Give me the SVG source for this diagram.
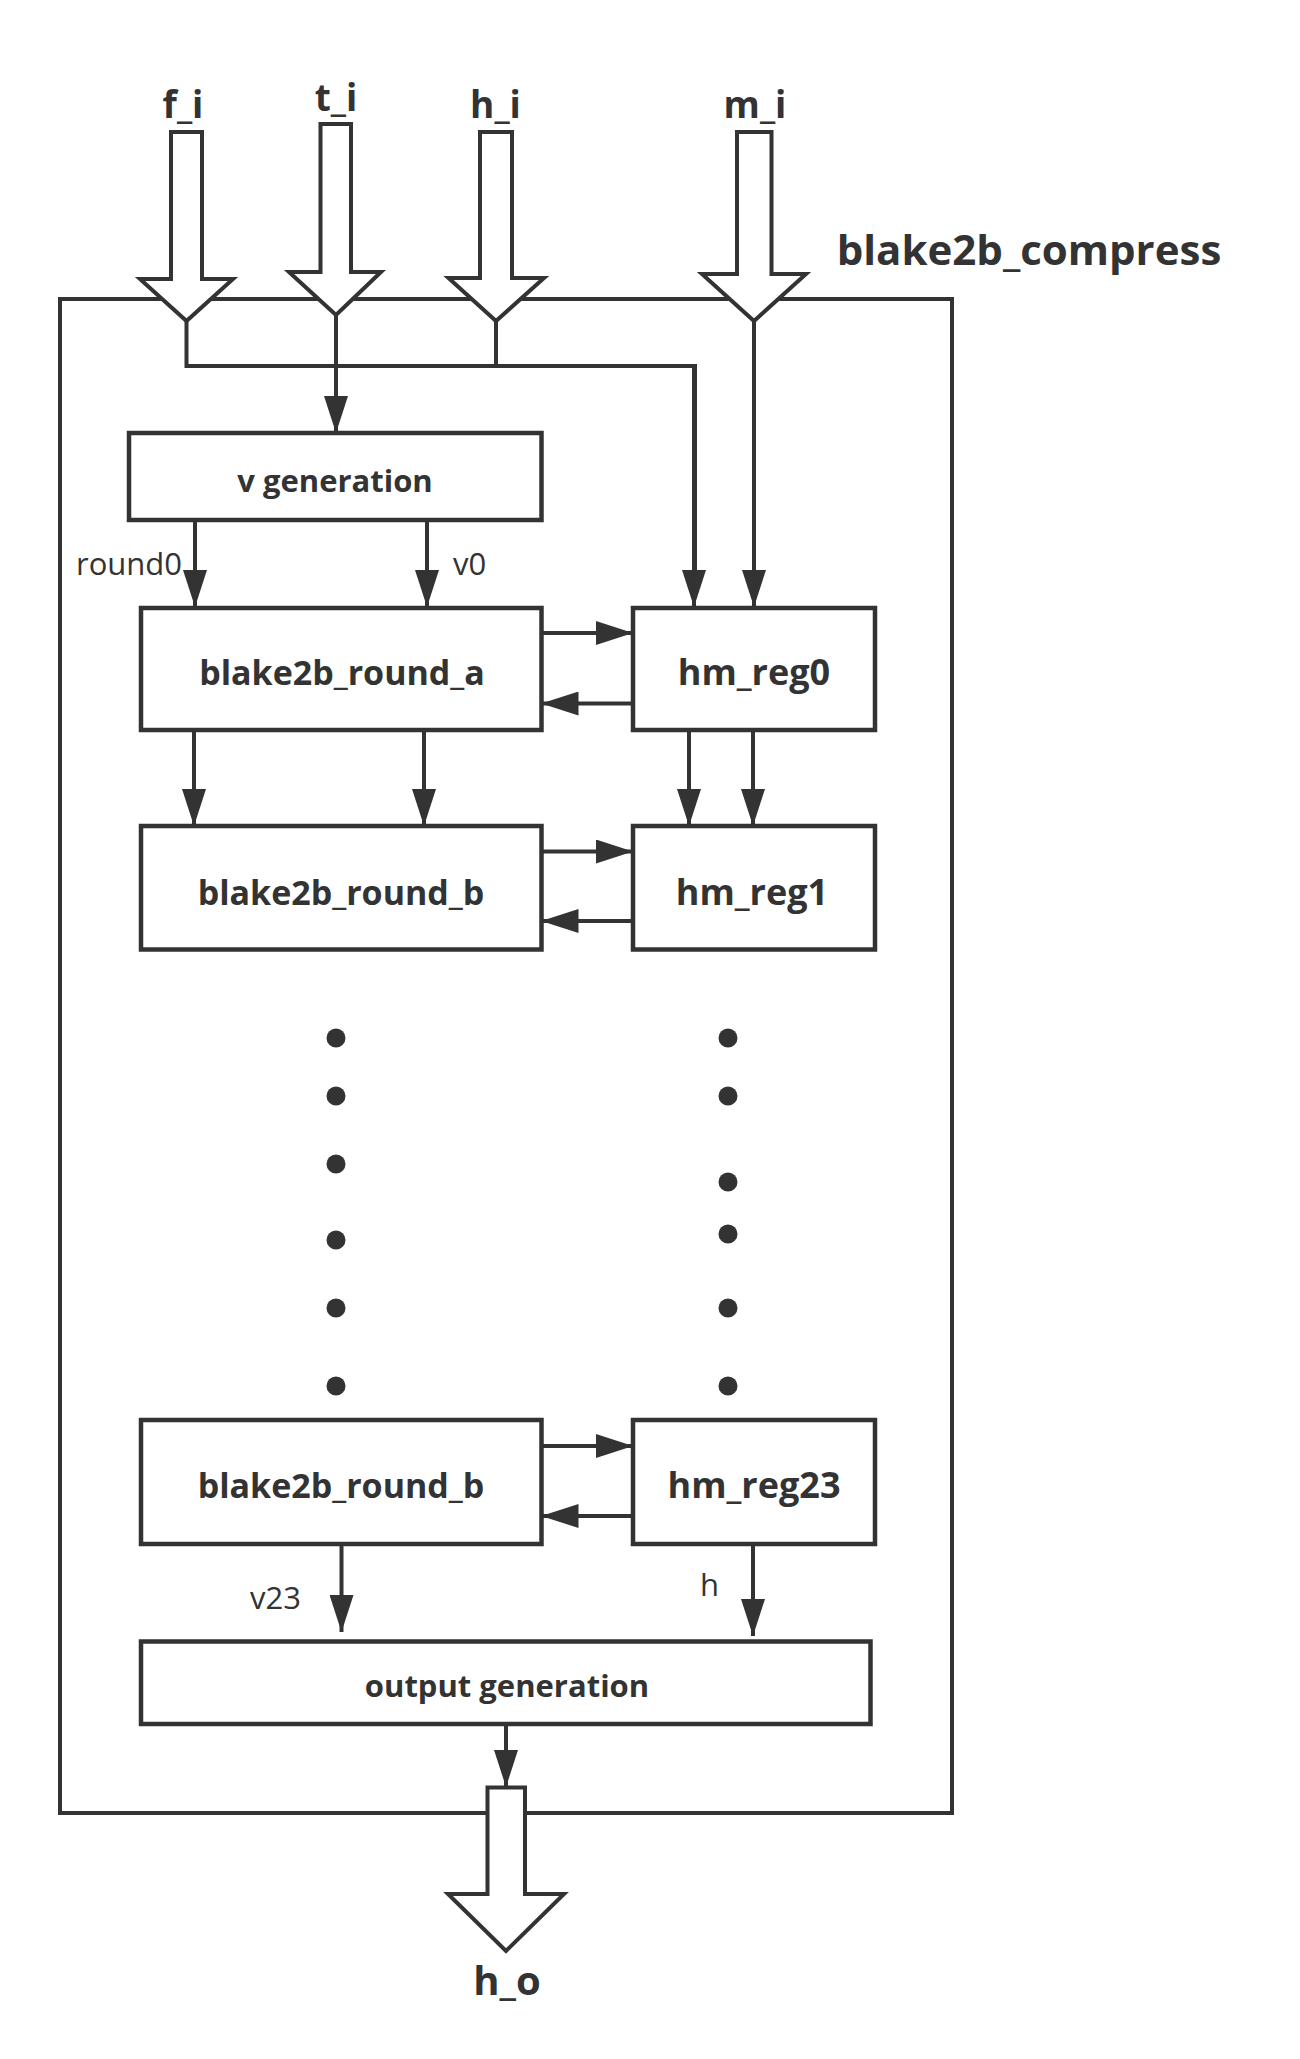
<svg xmlns="http://www.w3.org/2000/svg" width="1300" height="2059" viewBox="0 0 1300 2059">
<style>
.bx{fill:#fff;stroke:#333;stroke-width:4.5}
.ob{fill:none;stroke:#333;stroke-width:4}
.ln{fill:none;stroke:#333;stroke-width:4}
.ar{fill:none;stroke:#333;stroke-width:4;marker-end:url(#ah)}
.big{fill:#fff;stroke:#333;stroke-width:4;stroke-linejoin:miter}
.t{font-family:"Open Sans","Noto Sans","DejaVu Sans",sans-serif;font-weight:bold;fill:#333;text-anchor:middle}
.l{font-family:"Open Sans","Noto Sans","DejaVu Sans",sans-serif;fill:#333;font-size:31px}
.dot{fill:#333}
</style>
<defs>
<marker id="ah" markerUnits="userSpaceOnUse" markerWidth="37" markerHeight="24" refX="37" refY="12" orient="auto" viewBox="0 0 37 24">
<path d="M0,0 L37,12 L0,24 Z" fill="#333"/>
</marker>
</defs>
<rect width="1300" height="2059" fill="#fff"/>

<g id="blake2b_compress">
<rect class="ob" x="60" y="299" width="892" height="1514"/>
<text class="t" x="1029" y="265" font-size="42">blake2b_compress</text>
</g>

<g id="connectors">
<path class="ln" d="M186.5,321 V366 H695 V570"/>
<path class="ar" d="M694,366 V607"/>
<path class="ln" d="M496,321 V366"/>
<path class="ar" d="M336,315 V433"/>
<path class="ar" d="M754,321 V607"/>
<path class="ar" d="M195,520 V607"/>
<path class="ar" d="M427,520 V607"/>
<path class="ar" d="M541.5,633 H633"/>
<path class="ar" d="M633,703.5 H541.5"/>
<path class="ar" d="M194,730 V826"/>
<path class="ar" d="M424,730 V826"/>
<path class="ar" d="M689,730 V826"/>
<path class="ar" d="M753,730 V826"/>
<path class="ar" d="M541.5,851.5 H633"/>
<path class="ar" d="M633,921 H541.5"/>
<path class="ar" d="M541.5,1446 H633"/>
<path class="ar" d="M633,1516 H541.5"/>
<path class="ar" d="M341.5,1544 V1632"/>
<path class="ar" d="M753,1544 V1636"/>
<path class="ar" d="M506,1724 V1787"/>
<text class="l" x="76" y="575">round0</text>
<text class="l" x="453" y="575">v0</text>
<text class="l" x="250" y="1609">v23</text>
<text class="l" x="700" y="1596">h</text>
</g>

<g id="f_i">
<polygon class="big" points="171,132 202,132 202,279 233,279 186.5,321 140,279 171,279"/>
<text class="t" x="183" y="118" font-size="37">f_i</text>
</g>
<g id="t_i">
<polygon class="big" points="320.5,124 351,124 351,272 381,272 336,315 289,272 320.5,272"/>
<text class="t" x="336" y="111" font-size="37">t_i</text>
</g>
<g id="h_i">
<polygon class="big" points="480,132 512,132 512,278 544,278 496,321 448.5,278 480,278"/>
<text class="t" x="495.5" y="118" font-size="37">h_i</text>
</g>
<g id="m_i">
<polygon class="big" points="737,132 771.5,132 771.5,274 806,274 754,321 702,274 737,274"/>
<text class="t" x="755" y="118" font-size="37">m_i</text>
</g>

<g id="v_generation">
<rect class="bx" x="129" y="433" width="412.5" height="87"/>
<text class="t" x="335" y="492" font-size="31">v generation</text>
</g>
<g id="blake2b_round_a">
<rect class="bx" x="141" y="608" width="400.5" height="122"/>
<text class="t" x="342" y="685" font-size="34">blake2b_round_a</text>
</g>
<g id="hm_reg0">
<rect class="bx" x="633" y="608" width="242" height="122"/>
<text class="t" x="754" y="685" font-size="36">hm_reg0</text>
</g>
<g id="blake2b_round_b_1">
<rect class="bx" x="141" y="826" width="400.5" height="123.5"/>
<text class="t" x="341" y="905" font-size="34">blake2b_round_b</text>
</g>
<g id="hm_reg1">
<rect class="bx" x="633" y="826" width="242" height="123.5"/>
<text class="t" x="752" y="905" font-size="36">hm_reg1</text>
</g>

<g id="dots">
<circle class="dot" cx="336" cy="1038" r="9.5"/>
<circle class="dot" cx="336" cy="1096" r="9.5"/>
<circle class="dot" cx="336" cy="1164" r="9.5"/>
<circle class="dot" cx="336" cy="1240" r="9.5"/>
<circle class="dot" cx="336" cy="1308" r="9.5"/>
<circle class="dot" cx="336" cy="1386" r="9.5"/>
<circle class="dot" cx="728" cy="1038" r="9.5"/>
<circle class="dot" cx="728" cy="1096" r="9.5"/>
<circle class="dot" cx="728" cy="1182" r="9.5"/>
<circle class="dot" cx="728" cy="1234" r="9.5"/>
<circle class="dot" cx="728" cy="1308" r="9.5"/>
<circle class="dot" cx="728" cy="1386" r="9.5"/>
</g>

<g id="blake2b_round_b_23">
<rect class="bx" x="141" y="1420" width="400.5" height="124"/>
<text class="t" x="341" y="1498" font-size="34">blake2b_round_b</text>
</g>
<g id="hm_reg23">
<rect class="bx" x="633" y="1420" width="242" height="124"/>
<text class="t" x="754" y="1498" font-size="36">hm_reg23</text>
</g>
<g id="output_generation">
<rect class="bx" x="141" y="1641.5" width="729.5" height="82.5"/>
<text class="t" x="507" y="1697" font-size="31">output generation</text>
</g>

<g id="h_o">
<polygon class="big" points="487.5,1787.5 525,1787.5 525,1894 564,1894 506,1951 448,1894 487.5,1894"/>
<text class="t" x="507" y="1995" font-size="40">h_o</text>
</g>
</svg>
